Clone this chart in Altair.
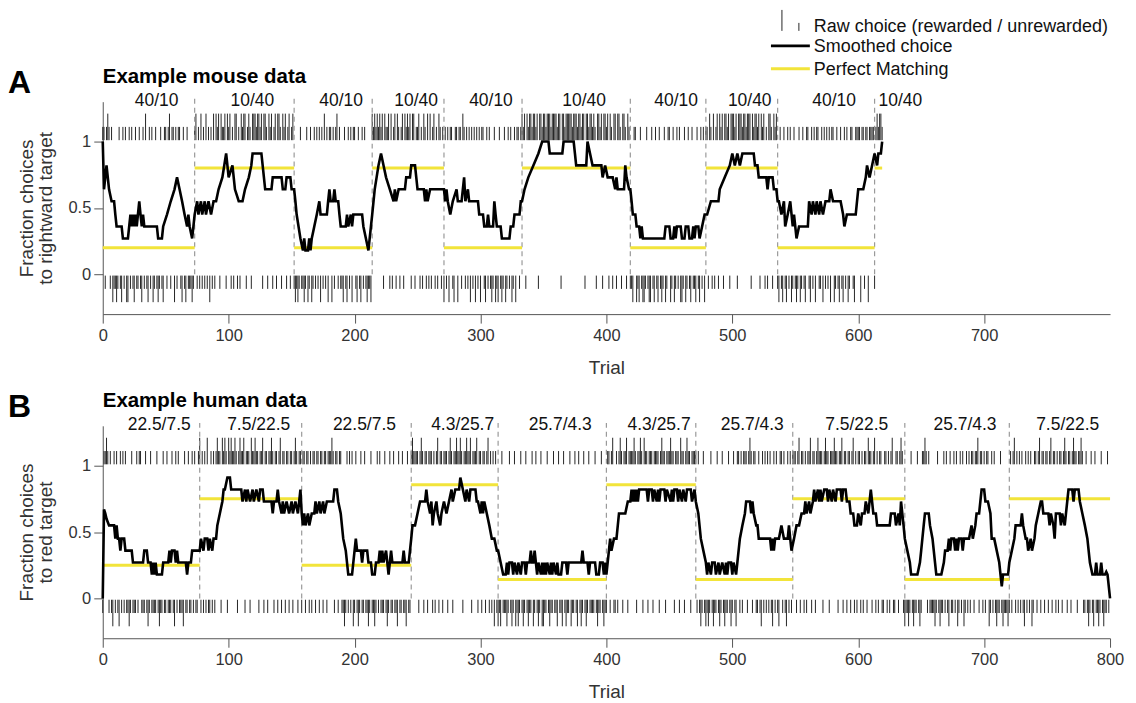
import altair as alt
import pandas as pd

FONT = "Liberation Sans"
YELLOW = "#F2E43A"

# ---------------- block structure ----------------
MOUSE_BLOCK_EDGES = [0, 73, 152, 214, 271, 333, 419, 479, 536, 613, 619]
MOUSE_BLOCK_LABELS = ["40/10", "10/40", "40/10", "10/40", "40/10",
                      "10/40", "40/10", "10/40", "40/10", "10/40"]
HUMAN_BLOCK_EDGES = [0, 77, 158, 245, 314, 400, 471, 548, 637, 720, 800]
HUMAN_BLOCK_LABELS = ["22.5/7.5", "7.5/22.5", "22.5/7.5", "4.3/25.7", "25.7/4.3",
                      "4.3/25.7", "25.7/4.3", "7.5/22.5", "25.7/4.3", "7.5/22.5"]

# ---------------- raw choices (R/r = rightward|red, L/l = other; upper case = rewarded) ----------------
MOUSE_CHOICES = [
    "rrlrRrlrLl", "lLlrlLrlrL", "LrlrlLrllr", "lLrlRlLrlr", "LlrlLlrlLr",
    "rlrRlrrLrl", "rrlLrlLrll", "lLlrRlrlRl", "rlRlrLrlRl", "RrRlRrrRlR",
    "rRlrlRRlrl", "RrRRlrRrlR", "RRrRRrRlRR", "rlRrRlrRlR", "RrlRrRlrRl",
    "rRlLlLlrll", "LlrLlrLlrl", "rlrLrlRlrL", "rrLrlrRlrl", "lLrlLrlrLr",
    "rlLrlLrlrl", "LllLRrRrRr", "RrRlRrrRlR", "lrRlRrlrRl", "RrRrRlRRlr",
    "rRlrlRrlRl", "RlrRlrlRrl", "rLrlrLrrlL", "rrLrrlRrlr", "lrLrlrLrlr",
    "LrrlLrlrlL", "lrLlLrlLlr", "LlrlrLlrLr", "rlrRrRlRrR", "RrRRrRlRRr",
    "RRrRRRrRRR", "RrRRlRRrRR", "RRRrRRRrRR", "rRRlRRrRRr", "RrlRRrRlRR",
    "rRlRrlRRlR", "RrlRRrlRrl", "lLrrLlLrlL", "LlrlLLrlLr", "lLrlLlrLlr",
    "rLlrLlrlrL", "LlrLlrlLrl", "lLrlLrlrLr", "rlRrlRlrRl", "RrRlRRrRlR",
    "RRrRlRRRrR", "RrRRRlRrRR", "rRlRrRlrlR", "RrlRrRlLrl", "LrlLrlrLlr",
    "lLlrLlrlLr", "rlLrlrLrrl", "lrLrlrlrLr", "rLlrlLrlLr", "lrLlrrlLrr",
    "rrLrrlrrLr", "rrrlrRrRRr",
]
HUMAN_CHOICES = [
    "lrrRrlrlLr", "lrlLrlrlrl", "lLlrlllrlr", "rlllrlLlrl", "lllrlLllrl",
    "lrlllrlLrl", "rlllLrllrl", "lrlrllrRlr", "lrlRllrlrl", "rRrrlRrRrl",
    "RrRrrRrlrR", "rrRlrrrlRr", "rRrrlrrRlr", "rlrrRrlrrl", "rRlrrlrrlr",
    "rlrRrlrrlr", "rlrrlrlrrl", "rrlrrlrrlr", "rrRrlrrlrr", "llLlrlrlrL",
    "lrlLlrllrl", "lLlrllLlrl", "rlllrlLlrl", "lrllLrllrl", "lLrllrRrrr",
    "rlrRrlrrlr", "rrlrlrRlrr", "lrrrlrRrlr", "rRrrRrlrrR", "rrRlrrrRlr",
    "rlrrlrRlrl", "rLrlLlLrll", "lLlrlLlrLl", "LlrlLlrlLl", "lrLlrlLlrL",
    "LllrlLllrl", "lLrllLrlLl", "lrLllrlLrl", "LlrlLlrlll", "lrlLllrlLl",
    "lrrlrRllrl", "rRrlrrRlrr", "rrRrlrrRrl", "Rrrlrrrlrr", "rrlrRrrlrr",
    "rRrrlrrrlR", "rrlrRrrlrr", "rrlrlLlrlL", "lLlrlLllrl", "LlrlLllrlL",
    "lrlLrrlrlr", "rrlrRrlrrl", "lrlLrlrlrl", "rlLrlrlLrr", "lrlLrlrlrr",
    "rlrRlrrlrl", "rrRlrrlrRr", "rrlrRrrlrr", "rRrrlrrRlr", "rlrrlrRlrl",
    "rrlrlrrlRr", "rlrRlrlrrl", "lrrlrlrRll", "rrlrRrlLll", "LlrlLllrlL",
    "lrrRrlrlll", "lLlrlLllrl", "rlLrllrlrL", "lrlrLlrlrl", "rrlrrRlrrl",
    "rlrrLlrlrl", "LllrlLlllL", "lrlrRlrlrl", "rlLrlrlrLl", "rrlrRlrrlr",
    "rlrRlrrlrl", "rrlrRrlrrl", "rRrrlrrRrl", "lrlLlrlLrl", "lLlrlLllrl",
]

# ---------------- smoothed choice: (trial, fraction) ----------------
MOUSE_SMOOTH = [
    (0, 1.0), (1, 0.64), (3, 0.82), (5, 0.64), (7, 0.55), (9, 0.55), (10, 0.45), (11, 0.36), (15, 0.36),
    (16, 0.27), (20, 0.27), (21, 0.36), (22, 0.45), (23, 0.36), (24, 0.45), (25, 0.36), (26, 0.45),
    (27, 0.36), (29, 0.55), (30, 0.45), (31, 0.36), (32, 0.45), (33, 0.36), (43, 0.36), (44, 0.27),
    (47, 0.27), (48, 0.36), (51, 0.45), (54, 0.55), (57, 0.64), (59, 0.73), (61, 0.64), (63, 0.55),
    (65, 0.45), (67, 0.36), (68, 0.45), (69, 0.36), (71, 0.27), (73, 0.45),
    (75, 0.55), (76, 0.45), (78, 0.55), (79, 0.45), (81, 0.55), (82, 0.45), (84, 0.55), (86, 0.45),
    (88, 0.55), (90, 0.55), (92, 0.64), (95, 0.73), (98, 0.91), (100, 0.73), (103, 0.82), (105, 0.64),
    (108, 0.55), (111, 0.55), (113, 0.64), (116, 0.73), (118, 0.82), (119, 0.91), (126, 0.91),
    (128, 0.73), (129, 0.64), (134, 0.64), (135, 0.73), (142, 0.73), (143, 0.64), (145, 0.64),
    (146, 0.73), (149, 0.73), (150, 0.64), (152, 0.64),
    (153, 0.55), (154, 0.45), (157, 0.27), (159, 0.18), (160, 0.27), (161, 0.18), (163, 0.18),
    (164, 0.27), (165, 0.18), (166, 0.27), (168, 0.36), (170, 0.45), (172, 0.55), (173, 0.45),
    (178, 0.45), (179, 0.55), (180, 0.64), (181, 0.55), (183, 0.55), (184, 0.64), (185, 0.55),
    (187, 0.55), (188, 0.45), (189, 0.36), (193, 0.36), (194, 0.45), (195, 0.36), (197, 0.45),
    (198, 0.36), (199, 0.45), (206, 0.45), (207, 0.36), (209, 0.27), (211, 0.18), (213, 0.36),
    (214, 0.45),
    (216, 0.64), (219, 0.82), (221, 0.91), (223, 0.82), (225, 0.73), (228, 0.64), (231, 0.55),
    (232, 0.64), (233, 0.55), (235, 0.64), (240, 0.64), (241, 0.73), (244, 0.73), (245, 0.82),
    (248, 0.82), (249, 0.73), (250, 0.64), (255, 0.64), (256, 0.55), (257, 0.64), (258, 0.55),
    (260, 0.64), (271, 0.64),
    (272, 0.55), (273, 0.64), (274, 0.55), (276, 0.45), (278, 0.55), (281, 0.64), (282, 0.55),
    (285, 0.55), (287, 0.73), (288, 0.55), (290, 0.64), (291, 0.55), (298, 0.55), (299, 0.45),
    (302, 0.45), (303, 0.36), (305, 0.36), (306, 0.45), (307, 0.36), (310, 0.36), (311, 0.55),
    (312, 0.45), (313, 0.36), (316, 0.36), (317, 0.27), (323, 0.27), (324, 0.36), (326, 0.36),
    (327, 0.45), (331, 0.45), (332, 0.55), (333, 0.55),
    (335, 0.64), (338, 0.73), (342, 0.82), (346, 0.91), (349, 1.0), (354, 1.0), (355, 0.91),
    (365, 0.91), (366, 1.0), (374, 1.0), (375, 0.91), (376, 0.82), (384, 0.82), (385, 1.0),
    (387, 0.91), (389, 0.82), (396, 0.82), (397, 0.73), (399, 0.82), (401, 0.73), (405, 0.73),
    (407, 0.64), (408, 0.73), (409, 0.64), (414, 0.64), (415, 0.82), (416, 0.73), (418, 0.64),
    (419, 0.64),
    (420, 0.55), (421, 0.45), (423, 0.45), (424, 0.36), (426, 0.36), (427, 0.27), (428, 0.36),
    (429, 0.27), (446, 0.27), (447, 0.36), (450, 0.36), (451, 0.27), (453, 0.27), (454, 0.36),
    (455, 0.27), (456, 0.36), (459, 0.36), (460, 0.27), (462, 0.27), (463, 0.36), (465, 0.36),
    (466, 0.27), (468, 0.27), (469, 0.36), (470, 0.27), (471, 0.36), (473, 0.36), (474, 0.27),
    (476, 0.36), (478, 0.45), (479, 0.45),
    (480, 0.45), (483, 0.55), (489, 0.55), (490, 0.64), (494, 0.73), (498, 0.82), (500, 0.91),
    (502, 0.82), (504, 0.91), (506, 0.82), (508, 0.91), (517, 0.91), (518, 0.82), (520, 0.82),
    (521, 0.73), (527, 0.73), (528, 0.64), (529, 0.73), (532, 0.73), (533, 0.64), (535, 0.64),
    (536, 0.55),
    (537, 0.55), (539, 0.45), (541, 0.55), (542, 0.36), (544, 0.45), (546, 0.55), (548, 0.36),
    (549, 0.45), (551, 0.27), (553, 0.36), (560, 0.36), (561, 0.55), (563, 0.45), (564, 0.55),
    (566, 0.45), (567, 0.55), (569, 0.45), (570, 0.55), (572, 0.45), (574, 0.55), (577, 0.55),
    (578, 0.64), (580, 0.55), (586, 0.55), (588, 0.45), (589, 0.36), (591, 0.45), (598, 0.45),
    (600, 0.64), (604, 0.64), (606, 0.73), (607, 0.82), (609, 0.73), (611, 0.82), (613, 0.91),
    (615, 0.82), (616, 0.91), (618, 0.91), (619, 1.0),
]
HUMAN_SMOOTH = [
    (0, 0.0), (1, 0.67), (2, 0.64), (3, 0.6), (5, 0.55), (9, 0.55), (10, 0.45), (11, 0.55), (12, 0.45),
    (13, 0.45), (14, 0.36), (15, 0.45), (17, 0.45), (18, 0.36), (23, 0.36), (24, 0.27), (32, 0.27),
    (33, 0.36), (35, 0.36), (36, 0.27), (38, 0.27), (39, 0.18), (40, 0.27), (41, 0.18), (42, 0.27),
    (43, 0.18), (47, 0.18), (48, 0.27), (52, 0.27), (53, 0.36), (54, 0.27), (55, 0.36), (57, 0.36),
    (58, 0.27), (59, 0.36), (60, 0.27), (66, 0.27), (67, 0.18), (68, 0.27), (70, 0.27), (71, 0.36),
    (77, 0.36),
    (78, 0.45), (80, 0.36), (81, 0.45), (83, 0.45), (84, 0.36), (85, 0.45), (87, 0.36), (88, 0.45),
    (90, 0.45), (91, 0.55), (93, 0.64), (95, 0.73), (96, 0.82), (97, 0.82), (99, 0.91), (101, 0.91),
    (102, 0.82), (110, 0.82), (111, 0.73), (113, 0.82), (114, 0.73), (115, 0.82), (117, 0.73),
    (119, 0.82), (120, 0.73), (122, 0.82), (124, 0.73), (125, 0.82), (127, 0.82), (128, 0.73),
    (134, 0.73), (135, 0.64), (136, 0.73), (138, 0.73), (139, 0.82), (140, 0.73), (142, 0.64),
    (143, 0.73), (144, 0.64), (146, 0.73), (148, 0.64), (150, 0.73), (151, 0.64), (153, 0.73),
    (155, 0.64), (157, 0.82), (158, 0.64),
    (159, 0.55), (160, 0.64), (161, 0.55), (163, 0.64), (164, 0.55), (166, 0.64), (168, 0.64),
    (169, 0.73), (170, 0.64), (172, 0.73), (173, 0.64), (175, 0.73), (176, 0.64), (178, 0.73),
    (183, 0.73), (184, 0.82), (186, 0.82), (187, 0.73), (189, 0.64), (191, 0.45), (193, 0.36),
    (194, 0.27), (195, 0.18), (198, 0.18), (199, 0.27), (200, 0.36), (201, 0.45), (202, 0.36),
    (205, 0.36), (206, 0.27), (207, 0.36), (210, 0.36), (211, 0.27), (213, 0.27), (214, 0.18),
    (216, 0.18), (217, 0.27), (219, 0.27), (220, 0.36), (221, 0.27), (222, 0.36), (223, 0.27),
    (225, 0.36), (226, 0.27), (227, 0.18), (228, 0.27), (229, 0.36), (230, 0.27), (238, 0.27),
    (239, 0.36), (240, 0.27), (243, 0.27), (245, 0.45),
    (246, 0.55), (248, 0.55), (250, 0.64), (252, 0.73), (256, 0.73), (257, 0.82), (258, 0.73),
    (260, 0.64), (261, 0.73), (262, 0.55), (263, 0.64), (265, 0.73), (266, 0.64), (268, 0.55),
    (269, 0.64), (271, 0.73), (273, 0.64), (275, 0.73), (277, 0.82), (278, 0.73), (280, 0.82),
    (283, 0.82), (284, 0.91), (286, 0.82), (288, 0.73), (289, 0.82), (291, 0.73), (292, 0.82),
    (296, 0.82), (297, 0.73), (298, 0.73), (300, 0.64), (301, 0.73), (302, 0.64), (303, 0.73),
    (305, 0.64), (307, 0.55), (309, 0.45), (311, 0.45), (313, 0.36), (314, 0.36),
    (316, 0.27), (318, 0.18), (320, 0.18), (321, 0.27), (322, 0.18), (323, 0.27), (325, 0.27),
    (326, 0.18), (327, 0.27), (329, 0.18), (330, 0.27), (332, 0.18), (333, 0.27), (335, 0.27),
    (336, 0.18), (337, 0.27), (339, 0.27), (340, 0.36), (341, 0.27), (342, 0.27), (343, 0.36),
    (344, 0.27), (345, 0.18), (346, 0.27), (348, 0.18), (349, 0.27), (350, 0.18), (351, 0.27),
    (352, 0.18), (353, 0.27), (355, 0.18), (356, 0.27), (357, 0.18), (358, 0.27), (360, 0.18),
    (361, 0.27), (362, 0.18), (364, 0.18), (365, 0.27), (368, 0.27), (369, 0.18), (370, 0.27),
    (380, 0.27), (381, 0.36), (382, 0.27), (385, 0.27), (386, 0.18), (387, 0.27), (391, 0.27),
    (392, 0.18), (394, 0.18), (395, 0.27), (397, 0.27), (398, 0.18), (399, 0.27), (400, 0.18),
    (402, 0.36), (403, 0.45), (404, 0.36), (406, 0.45), (408, 0.45), (410, 0.64), (415, 0.64),
    (417, 0.73), (419, 0.73), (420, 0.82), (421, 0.73), (422, 0.82), (423, 0.73), (424, 0.82),
    (425, 0.73), (426, 0.82), (432, 0.82), (433, 0.73), (434, 0.82), (436, 0.82), (437, 0.73),
    (438, 0.82), (440, 0.73), (441, 0.82), (442, 0.73), (443, 0.82), (446, 0.82), (447, 0.73),
    (448, 0.82), (451, 0.73), (452, 0.82), (453, 0.73), (454, 0.82), (456, 0.82), (457, 0.73),
    (458, 0.82), (460, 0.73), (461, 0.82), (463, 0.73), (464, 0.82), (467, 0.82), (468, 0.73),
    (470, 0.82), (471, 0.73),
    (473, 0.64), (475, 0.45), (477, 0.36), (479, 0.27), (480, 0.18), (481, 0.27), (483, 0.18),
    (484, 0.27), (486, 0.27), (487, 0.18), (489, 0.27), (490, 0.18), (492, 0.27), (494, 0.18),
    (495, 0.27), (496, 0.18), (497, 0.27), (499, 0.27), (500, 0.18), (501, 0.27), (503, 0.18),
    (504, 0.27), (506, 0.45), (508, 0.55), (510, 0.64), (511, 0.73), (514, 0.73), (515, 0.64),
    (516, 0.73), (517, 0.64), (519, 0.55), (520, 0.55), (521, 0.45), (530, 0.45), (531, 0.36),
    (532, 0.45), (533, 0.36), (534, 0.45), (537, 0.45), (539, 0.55), (541, 0.45), (544, 0.45),
    (545, 0.55), (546, 0.45), (547, 0.36),
    (549, 0.45), (551, 0.55), (553, 0.55), (555, 0.64), (557, 0.64), (558, 0.73), (559, 0.64),
    (561, 0.73), (562, 0.64), (564, 0.73), (565, 0.82), (566, 0.73), (568, 0.82), (569, 0.73),
    (570, 0.82), (571, 0.73), (573, 0.82), (575, 0.82), (576, 0.73), (577, 0.82), (579, 0.73),
    (580, 0.82), (582, 0.73), (583, 0.82), (586, 0.82), (587, 0.73), (588, 0.82), (590, 0.82),
    (591, 0.73), (593, 0.73), (594, 0.64), (596, 0.64), (597, 0.55), (599, 0.55), (600, 0.64),
    (602, 0.55), (603, 0.64), (605, 0.64), (606, 0.73), (608, 0.64), (610, 0.82), (611, 0.73),
    (612, 0.64), (614, 0.64), (615, 0.55), (625, 0.55), (626, 0.64), (629, 0.64), (630, 0.55),
    (632, 0.64), (633, 0.55), (634, 0.73), (635, 0.64), (636, 0.55),
    (637, 0.45), (639, 0.36), (641, 0.27), (642, 0.18), (647, 0.18), (649, 0.27), (650, 0.36),
    (652, 0.55), (653, 0.64), (656, 0.64), (657, 0.55), (659, 0.45), (660, 0.36), (661, 0.27),
    (662, 0.18), (666, 0.18), (668, 0.27), (669, 0.36), (671, 0.36), (672, 0.45), (673, 0.36),
    (674, 0.45), (676, 0.45), (677, 0.36), (678, 0.45), (679, 0.36), (680, 0.45), (682, 0.45),
    (683, 0.36), (684, 0.45), (688, 0.45), (690, 0.55), (691, 0.45), (693, 0.55), (694, 0.64),
    (696, 0.64), (697, 0.73), (698, 0.82), (700, 0.82), (701, 0.73), (703, 0.73), (705, 0.64),
    (706, 0.45), (708, 0.45), (710, 0.36), (712, 0.27), (713, 0.18), (714, 0.09), (715, 0.18),
    (719, 0.18), (720, 0.27),
    (722, 0.36), (724, 0.45), (725, 0.55), (729, 0.55), (730, 0.64), (731, 0.55), (733, 0.45),
    (734, 0.45), (735, 0.36), (737, 0.45), (738, 0.36), (740, 0.45), (741, 0.55), (743, 0.64),
    (745, 0.73), (746, 0.73), (747, 0.64), (751, 0.64), (752, 0.55), (753, 0.64), (755, 0.55),
    (756, 0.45), (757, 0.64), (760, 0.64), (761, 0.55), (762, 0.64), (764, 0.55), (765, 0.64),
    (766, 0.73), (767, 0.82), (770, 0.82), (771, 0.73), (772, 0.82), (775, 0.82), (776, 0.73),
    (778, 0.64), (780, 0.55), (782, 0.45), (783, 0.36), (784, 0.27), (786, 0.18), (788, 0.18),
    (789, 0.27), (790, 0.18), (792, 0.18), (793, 0.27), (794, 0.18), (796, 0.18), (797, 0.2),
    (798, 0.18), (800, 0.0),
]

MOUSE_X_TICKS = [0, 100, 200, 300, 400, 500, 600, 700]
HUMAN_X_TICKS = [0, 100, 200, 300, 400, 500, 600, 700, 800]

# ---------------- layout ----------------
W, H = 1010, 213
X_SCALE = alt.Scale(domain=[0, 800], nice=False, zero=False)
Y_SCALE = alt.Scale(domain=[-0.3, 1.3], nice=False, zero=False)


def panel(letter, title, ytitle, choices, edges, labels, smooth, xticks, legend=False):
    xa = alt.Axis(values=xticks, title="Trial", labelFlush=False)
    ya = alt.Axis(values=[0, 0.5, 1], format=".1~f", title=ytitle)
    X = lambda f: alt.X(f, scale=X_SCALE, axis=xa)
    Y = lambda f: alt.Y(f, scale=Y_SCALE, axis=ya)

    seq = "".join(choices)
    rows = []
    for i, ch in enumerate(seq):
        top = ch in "Rr"
        rew = ch.isupper()
        if top:
            rows.append({"trial": i, "y0": 1.01, "y1": 1.21 if rew else 1.11})
        else:
            rows.append({"trial": i, "y0": -0.01, "y1": -0.21 if rew else -0.11})
    ticks_df = pd.DataFrame(rows)

    blocks = []
    for k, lab in enumerate(labels):
        a, b = [float(s) for s in lab.split("/")]
        s, e = edges[k], edges[k + 1]
        blocks.append({"start": s, "end": e, "match": b / (a + b),
                       "mid": (s + e) / 2, "label": lab, "short": (e - s) < 20})
    blocks_df = pd.DataFrame(blocks)
    dash_df = pd.DataFrame({"edge": edges[1:-1], "y0": 0.0, "y1": 1.35})
    smooth_df = pd.DataFrame(smooth, columns=["t", "v"])

    layers = [
        alt.Chart(ticks_df).mark_rule(color="#262626", strokeWidth=1).encode(
            x=X("trial:Q"), y=Y("y0:Q"), y2="y1:Q"),
        alt.Chart(dash_df).mark_rule(color="#9a9a9a", strokeWidth=1.2, strokeDash=[5, 4]).encode(
            x=X("edge:Q"), y=Y("y0:Q"), y2="y1:Q"),
        alt.Chart(blocks_df).mark_rule(color=YELLOW, strokeWidth=3).encode(
            x=X("start:Q"), x2="end:Q", y=Y("match:Q")),
        alt.Chart(smooth_df).mark_line(color="black", strokeWidth=2.6, clip=False).encode(
            x=X("t:Q"), y=Y("v:Q")),
        alt.Chart(blocks_df).transform_filter("!datum.short").mark_text(
            fontSize=17.5, color="#111", baseline="middle", dx=8).encode(
            x=X("mid:Q"), y=alt.value(-1), text="label:N"),
        alt.Chart(blocks_df).transform_filter("datum.short").mark_text(
            fontSize=17.5, color="#111", baseline="middle", align="left", dx=4).encode(
            x=X("start:Q"), y=alt.value(-1), text="label:N"),
        alt.Chart(pd.DataFrame({"t": [title]})).mark_text(
            fontSize=20.5, fontWeight="bold", align="left", baseline="alphabetic", color="black").encode(
            x=alt.value(0), y=alt.value(-19), text="t:N"),
        alt.Chart(pd.DataFrame({"t": [letter]})).mark_text(
            fontSize=32, fontWeight="bold", align="left", baseline="alphabetic", color="black").encode(
            x=alt.value(-95), y=alt.value(-9), text="t:N"),
    ]
    if legend:
        one = pd.DataFrame({"t": ["Raw choice (rewarded / unrewarded)", "Smoothed choice", "Perfect Matching"],
                            "yy": [-75, -55, -32]})
        layers += [
            alt.Chart(one.head(1)).mark_rule(color="#262626", strokeWidth=1).encode(
                x=alt.value(681), y=alt.value(-92), y2=alt.value(-71)),
            alt.Chart(one.head(1)).mark_rule(color="#262626", strokeWidth=1).encode(
                x=alt.value(698), y=alt.value(-79), y2=alt.value(-71)),
            alt.Chart(one.head(1)).mark_rule(color="black", strokeWidth=2.6).encode(
                x=alt.value(670), x2=alt.value(709), y=alt.value(-56)),
            alt.Chart(one.head(1)).mark_rule(color=YELLOW, strokeWidth=3).encode(
                x=alt.value(670), x2=alt.value(709), y=alt.value(-33)),
            alt.Chart(one).mark_text(fontSize=18, align="left", baseline="middle", color="#111").encode(
                x=alt.value(713), y=alt.Y("yy:Q", scale=None), text="t:N"),
        ]
    return alt.layer(*layers).properties(width=W, height=H)


panel_a = panel("A", "Example mouse data", ["Fraction choices", "to rightward target"],
                MOUSE_CHOICES, MOUSE_BLOCK_EDGES, MOUSE_BLOCK_LABELS, MOUSE_SMOOTH,
                MOUSE_X_TICKS, legend=True)
panel_b = panel("B", "Example human data", ["Fraction choices", "to red target"],
                HUMAN_CHOICES, HUMAN_BLOCK_EDGES, HUMAN_BLOCK_LABELS, HUMAN_SMOOTH,
                HUMAN_X_TICKS)

chart = alt.vconcat(panel_a, panel_b, spacing=13).properties(
    padding={"left": 0, "top": 0, "right": 4, "bottom": 0}
).configure(font=FONT).configure_view(stroke=None).configure_axis(
    labelFont=FONT, titleFont=FONT, labelFontSize=16.5, titleFontSize=19,
    titleFontWeight="normal", labelColor="#333", titleColor="#333",
    domainColor="#555", tickColor="#555", tickSize=9, grid=False,
    labelPadding=3, titleLineHeight=19,
).configure_axisY(titlePadding=12).configure_axisX(labelPadding=4, titlePadding=15)

chart.save("out.html", embed_options={"renderer": "svg", "actions": False})
